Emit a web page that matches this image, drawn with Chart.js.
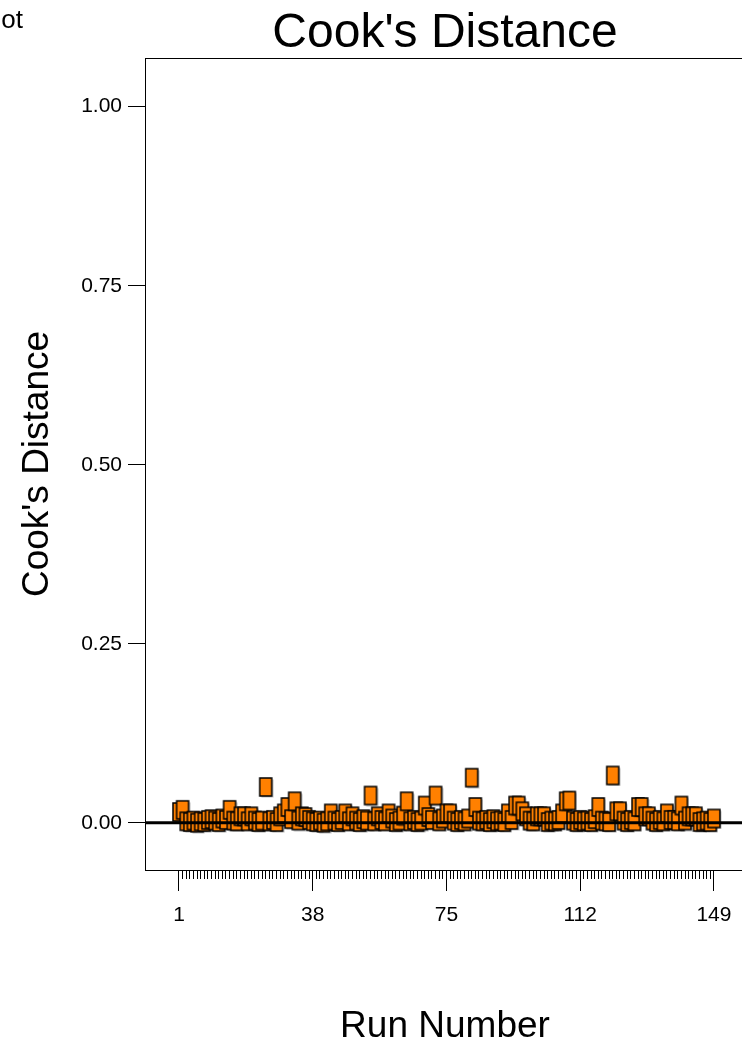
<!DOCTYPE html>
<html>
<head>
<meta charset="utf-8">
<script src="https://cdn.jsdelivr.net/npm/chart.js@4.4.0/dist/chart.umd.min.js"></script>
<style>
  html, body { margin: 0; padding: 0; overflow: hidden; background: #fff; width: 742px; height: 1040px; }
  #wrap { position: relative; width: 760px; height: 1040px; }
</style>
</head>
<body>
<div id="wrap"><canvas id="cooks"></canvas></div>
<script>
// Run order of the experiment (x) and Cook's distance for each run (y)
const runNumbers = [
  1,2,3,4,5,6,7,8,9,10,11,12,13,14,15,16,17,18,19,20,
  21,22,23,24,25,26,27,28,29,30,31,32,33,34,35,36,37,38,39,40,
  41,42,43,44,45,46,47,48,49,50,51,52,53,54,55,56,57,58,59,60,
  61,62,63,64,65,66,67,68,69,70,71,72,73,74,75,76,77,78,79,80,
  81,82,83,84,85,86,87,88,89,90,91,92,93,94,95,96,97,98,99,100,
  101,102,103,104,105,106,107,108,109,110,111,112,113,114,115,116,117,118,119,120,
  121,122,123,124,125,126,127,128,129,130,131,132,133,134,135,136,137,138,139,140,
  141,142,143,144,145,146,147,148,149
];
const cooksDistance = [
  0.015,0.018,0.002,0.001,0.003,0.000,0.002,0.001,0.004,0.005,
  0.003,0.001,0.006,0.004,0.018,0.003,0.002,0.009,0.009,0.002,
  0.009,0.003,0.001,0.003,0.050,0.002,0.004,0.001,0.009,0.013,
  0.022,0.005,0.030,0.003,0.009,0.008,0.004,0.002,0.001,0.003,
  0.000,0.002,0.013,0.003,0.001,0.004,0.013,0.002,0.009,0.003,
  0.001,0.005,0.003,0.038,0.002,0.009,0.004,0.002,0.013,0.006,
  0.001,0.003,0.010,0.030,0.002,0.004,0.001,0.003,0.024,0.008,
  0.004,0.038,0.002,0.006,0.013,0.013,0.003,0.001,0.004,0.002,
  0.006,0.063,0.022,0.003,0.002,0.004,0.001,0.005,0.002,0.003,
  0.001,0.013,0.004,0.024,0.024,0.016,0.009,0.003,0.002,0.009,
  0.009,0.009,0.001,0.003,0.002,0.004,0.013,0.030,0.031,0.003,
  0.001,0.004,0.002,0.003,0.001,0.005,0.022,0.003,0.002,0.001,
  0.066,0.016,0.016,0.003,0.001,0.004,0.002,0.022,0.022,0.009,
  0.009,0.003,0.001,0.004,0.002,0.013,0.004,0.004,0.002,0.024,
  0.003,0.009,0.009,0.009,0.001,0.002,0.003,0.001,0.006
];
const xTickLabels = [1, 38, 75, 112, 149];
const yTickValues = [0, 0.25, 0.5, 0.75, 1.0];

const FONT = "'Liberation Sans', Arial, Helvetica, sans-serif";

// Orange box marker with a soft drop shadow
function makeMarker() {
  const c = document.createElement('canvas');
  c.width = 16; c.height = 22;
  const g = c.getContext('2d');
  g.fillStyle = 'rgba(0,0,0,0.28)';
  g.fillRect(3.5, 3.5, 12, 18);
  g.fillStyle = '#FF8000';
  g.fillRect(2, 2, 12, 18);
  g.strokeStyle = '#000';
  g.lineWidth = 1.5;
  g.strokeRect(2, 2, 12, 18);
  return c;
}
const marker = makeMarker();

const points = runNumbers.map((r, i) => ({ x: r, y: cooksDistance[i] }));

// Plot frame, zero reference line and the neighbouring panel caption
const decorations = {
  id: 'decorations',
  beforeDatasetsDraw(chart) {
    const { ctx, chartArea: a } = chart;
    ctx.save();
    ctx.strokeStyle = '#000';
    ctx.lineWidth = 1;
    ctx.strokeRect(Math.round(a.left) + 0.5, Math.round(a.top) + 0.5,
                   Math.round(a.right - a.left), Math.round(a.bottom - a.top));
    ctx.restore();
  },
  afterDatasetsDraw(chart) {
    const { ctx, chartArea: a, scales } = chart;
    const y0 = scales.y.getPixelForValue(0);
    ctx.save();
    ctx.strokeStyle = '#000';
    ctx.lineWidth = 3;
    ctx.beginPath();
    ctx.moveTo(a.left, y0);
    ctx.lineTo(a.right, y0);
    ctx.stroke();
    ctx.restore();
  },
  afterDraw(chart) {
    const { ctx } = chart;
    ctx.save();
    ctx.fillStyle = '#000';
    ctx.font = '26px ' + FONT;
    ctx.textAlign = 'right';
    ctx.textBaseline = 'alphabetic';
    ctx.fillText('Plot', 23, 28);
    ctx.restore();
  }
};

new Chart(document.getElementById('cooks'), {
  type: 'scatter',
  data: {
    datasets: [{
      data: points,
      pointStyle: marker,
      pointRadius: 9,
      pointHoverRadius: 9
    }]
  },
  options: {
    responsive: true,
    maintainAspectRatio: false,
    animation: false,
    events: [],
    layout: { padding: { left: 0, right: 15, top: 0, bottom: 0 } },
    plugins: {
      legend: { display: false },
      tooltip: { enabled: false },
      title: {
        display: true,
        text: "Cook's Distance",
        fullSize: false,
        color: '#000',
        font: { family: FONT, size: 48, weight: 'normal', lineHeight: 1 },
        padding: { top: 10, bottom: 0 }
      }
    },
    scales: {
      xMinor: {
        type: 'linear',
        position: 'bottom',
        weight: 0,
        min: -8.4, max: 157.6,
        afterBuildTicks(s) { s.ticks = runNumbers.map(v => ({ value: v })); },
        afterFit(s) { s.height = 0; },
        ticks: { display: false, autoSkip: false },
        grid: { drawOnChartArea: false, color: '#000', tickLength: 9, tickWidth: 1 },
        border: { display: false }
      },
      x: {
        type: 'linear',
        position: 'bottom',
        weight: 1,
        min: -8.4, max: 157.6,
        afterBuildTicks(s) { s.ticks = xTickLabels.map(v => ({ value: v })); },
        afterFit(s) { s.height = 170; },
        ticks: {
          autoSkip: false, maxRotation: 0, padding: 12,
          color: '#000', font: { family: FONT, size: 21 },
          callback: v => String(v)
        },
        grid: { drawOnChartArea: false, color: '#000', tickLength: 21, tickWidth: 1 },
        border: { display: false },
        title: {
          display: true, text: 'Run Number', color: '#000',
          font: { family: FONT, size: 37, lineHeight: 0.7 },
          padding: { top: 0, bottom: 0 }
        }
      },
      y: {
        type: 'linear',
        position: 'left',
        min: -0.066, max: 1.068,
        afterBuildTicks(s) { s.ticks = yTickValues.map(v => ({ value: v })); },
        afterFit(s) { s.width = 145; },
        ticks: {
          padding: 6, color: '#000', font: { family: FONT, size: 21 },
          callback: v => Number(v).toFixed(2)
        },
        grid: { drawOnChartArea: false, color: '#000', tickLength: 17, tickWidth: 1 },
        border: { display: false },
        title: {
          display: true, text: "Cook's Distance", color: '#000',
          font: { family: FONT, size: 37, lineHeight: 1 },
          padding: { top: 19, bottom: 0 }
        }
      }
    }
  },
  plugins: [decorations]
});
</script>
</body>
</html>
